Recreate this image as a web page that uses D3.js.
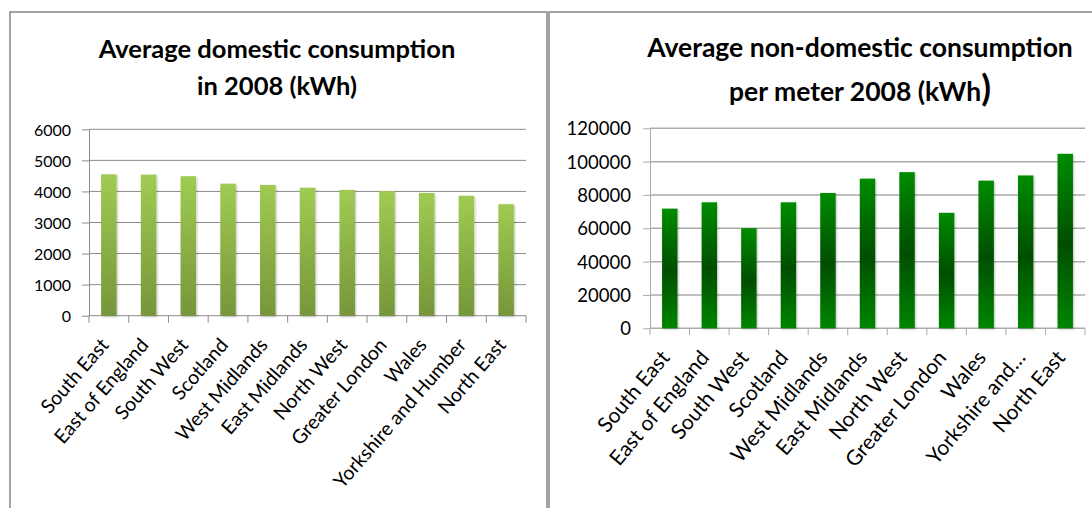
<!DOCTYPE html>
<html>
<head>
<meta charset="utf-8">
<script src="https://cdn.jsdelivr.net/npm/d3@7"></script>
<style>
  body { margin: 0; background: #fff; }
  svg { display: block; }
  text { font-family: Lato, "Open Sans", sans-serif; fill: #000; }
</style>
</head>
<body>
<svg id="chart" width="1092" height="508"></svg>
<script>
// Average electricity consumption by region, 2008 (kWh)
const domesticRegions = ["South East", "East of England", "South West", "Scotland", "West Midlands",
  "East Midlands", "North West", "Greater London", "Wales", "Yorkshire and Humber", "North East"];
const domesticValues = [4550, 4540, 4490, 4250, 4210, 4120, 4050, 4010, 3950, 3860, 3590];
const domesticTicks = [0, 1000, 2000, 3000, 4000, 5000, 6000];

const nonDomesticRegions = ["South East", "East of England", "South West", "Scotland", "West Midlands",
  "East Midlands", "North West", "Greater London", "Wales", "Yorkshire and\u2026", "North East"];
const nonDomesticValues = [71800, 75600, 60100, 75600, 81200, 89800, 93700, 69300, 88600, 91700, 104700];
const nonDomesticTicks = [0, 20000, 40000, 60000, 80000, 100000, 120000];

const domesticTitle = ["Average domestic consumption", "in 2008 (kWh)"];
const nonDomesticTitle = ["Average non-domestic consumption", "per meter 2008 (kWh"];

const svg = d3.select("#chart");
const defs = svg.append("defs");

// bar fills
const gLight = defs.append("linearGradient").attr("id", "fillLight")
  .attr("x1", 0).attr("y1", 0).attr("x2", 0).attr("y2", 1);
gLight.append("stop").attr("offset", "0%").attr("stop-color", "#a0cb52");
gLight.append("stop").attr("offset", "100%").attr("stop-color", "#76963a");

const gDark = defs.append("linearGradient").attr("id", "fillDark")
  .attr("x1", 0).attr("y1", 0).attr("x2", 0).attr("y2", 1);
gDark.append("stop").attr("offset", "0%").attr("stop-color", "#008c00");
gDark.append("stop").attr("offset", "52%").attr("stop-color", "#004e00");
gDark.append("stop").attr("offset", "100%").attr("stop-color", "#008500");

const shadow = defs.append("filter").attr("id", "barShadow")
  .attr("x", "-30%").attr("y", "-5%").attr("width", "160%").attr("height", "115%");
shadow.append("feDropShadow").attr("dx", 1).attr("dy", 1).attr("stdDeviation", 1)
  .attr("flood-color", "#000").attr("flood-opacity", 0.25);

function drawPanel(cfg) {
  const g = svg.append("g");

  // frame
  g.append("rect")
    .attr("x", cfg.frame[0]).attr("y", cfg.frame[1])
    .attr("width", cfg.frame[2]).attr("height", cfg.frame[3])
    .attr("fill", "none").attr("stroke", "#878787").attr("stroke-width", 1.5);

  // title
  const title = g.append("text")
    .attr("text-anchor", "middle")
    .attr("font-weight", "bold")
    .attr("font-size", cfg.titleSize);
  cfg.title.forEach((line, i) => {
    title.append("tspan")
      .attr("x", cfg.titleX).attr("y", cfg.titleY[i])
      .text(line);
    if (i === cfg.title.length - 1 && cfg.titleTail) {
      title.append("tspan").attr("font-size", cfg.titleSize * 1.35).text(cfg.titleTail);
    }
  });

  const x = d3.scaleBand()
    .domain(cfg.categories)
    .range([cfg.left, cfg.right])
    .paddingInner(0.61)
    .paddingOuter(0.305);

  const y = d3.scaleLinear()
    .domain([0, d3.max(cfg.ticks)])
    .range([cfg.bottom, cfg.top]);

  // gridlines
  g.append("g").selectAll("line")
    .data(cfg.ticks.filter(t => t > 0))
    .join("line")
    .attr("x1", cfg.left).attr("x2", cfg.right)
    .attr("y1", d => y(d)).attr("y2", d => y(d))
    .attr("stroke", cfg.gridColor).attr("stroke-width", cfg.gridWidth);

  // y axis
  const yAxis = g.append("g")
    .attr("transform", `translate(${cfg.left},0)`)
    .call(d3.axisLeft(y).tickValues(cfg.ticks).tickFormat(d3.format("d"))
      .tickSize(7).tickPadding(cfg.yPad).tickSizeOuter(0));
  yAxis.select(".domain").attr("stroke", cfg.gridColor);
  yAxis.selectAll(".tick line").attr("stroke", cfg.gridColor);
  yAxis.selectAll(".tick text")
    .attr("font-size", cfg.tickSize).attr("font-family", "Lato, sans-serif").attr("fill", "#000")
    .attr("dy", "0.36em");

  // x axis line and boundary ticks
  const step = x.step();
  const edges = d3.range(cfg.categories.length + 1).map(i => cfg.left + i * step);
  g.append("line")
    .attr("x1", cfg.left).attr("x2", cfg.right)
    .attr("y1", cfg.bottom).attr("y2", cfg.bottom)
    .attr("stroke", cfg.gridColor).attr("stroke-width", cfg.gridWidth);
  g.append("g").selectAll("line")
    .data(edges)
    .join("line")
    .attr("x1", d => d).attr("x2", d => d)
    .attr("y1", cfg.bottom).attr("y2", cfg.bottom + 7)
    .attr("stroke", cfg.gridColor).attr("stroke-width", 1);

  // bars
  g.append("g").selectAll("rect")
    .data(cfg.values)
    .join("rect")
    .attr("x", (d, i) => x(cfg.categories[i]))
    .attr("width", x.bandwidth())
    .attr("y", d => y(d))
    .attr("height", d => y(0) - y(d))
    .attr("fill", cfg.fill)
    .attr("filter", "url(#barShadow)");

  // slanted category labels
  g.append("g").selectAll("text")
    .data(cfg.categories)
    .join("text")
    .attr("text-anchor", "end")
    .attr("font-size", cfg.labelSize)
    .attr("transform", d =>
      `translate(${x(d) + x.bandwidth() / 2 + 1},${cfg.bottom + cfg.labelDrop}) rotate(${cfg.labelAngle})`)
    .text(d => d);
}

drawPanel({
  frame: [10, 12, 537, 520],
  title: domesticTitle,
  titleX: 277, titleY: [58, 95], titleSize: 25.5,
  categories: domesticRegions, values: domesticValues, ticks: domesticTicks,
  left: 89, right: 526, top: 129.3, bottom: 315.7,
  yPad: 11, tickSize: 16, labelSize: 19.5, labelAngle: -49, labelDrop: 30,
  gridColor: "#8a8a8a", gridWidth: 1,
  fill: "url(#fillLight)"
});

drawPanel({
  frame: [549, 12, 560, 520],
  title: nonDomesticTitle, titleTail: ")",
  titleX: 860, titleY: [57, 101], titleSize: 26.5,
  categories: nonDomesticRegions, values: nonDomesticValues, ticks: nonDomesticTicks,
  left: 650, right: 1085, top: 128.3, bottom: 328.3,
  yPad: 12, tickSize: 18.5, labelSize: 21, labelAngle: -50, labelDrop: 30,
  gridColor: "#ababab", gridWidth: 1.5,
  fill: "url(#fillDark)"
});
</script>
</body>
</html>
